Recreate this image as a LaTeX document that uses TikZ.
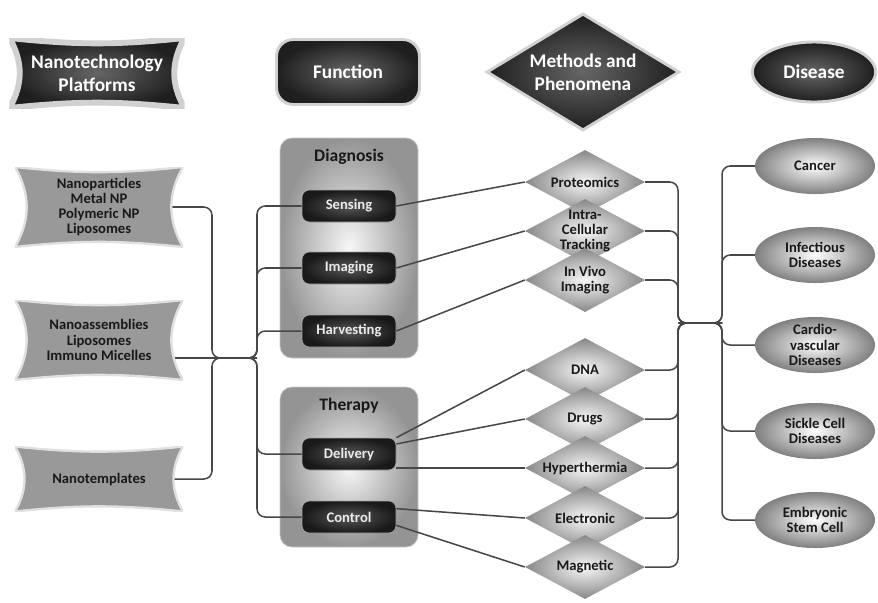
\documentclass[tikz,border=0pt]{standalone}
\usepackage{fontspec}
\setmainfont{Carlito}
\usetikzlibrary{shapes.geometric,backgrounds}

\tikzset{
  body/.style={font=\fontsize{12.5}{13}\selectfont\bfseries},
  darkshade/.style={inner color=black!60, outer color=black!88},
  concave/.style={path picture={
    \path[#1] (path picture bounding box.north west)
      to[bend right=6] (path picture bounding box.north east)
      to[bend right=30] (path picture bounding box.south east)
      to[bend right=6] (path picture bounding box.south west)
      to[bend right=30] (path picture bounding box.north west) -- cycle;}},
  headtext/.style={font=\fontsize{16.5}{20}\selectfont\bfseries, text=white, align=center},
  head/.style={headtext, darkshade, draw=black!18, line width=2.5pt},
  headpanel/.style={headtext, concave={darkshade, draw=black!18, line width=5pt},
    minimum width=5.25cm, minimum height=2.1cm},
  platform/.style={body, text=black!90, align=center,
    concave={fill=black!40, draw=black!12, line width=2pt},
    minimum width=5.04cm, minimum height=2.4cm},
  panel/.style={rounded corners=0.36cm, inner color=black!3, outer color=black!42,
    draw=black!22, line width=0.6pt, minimum width=4.14cm},
  paneltitle/.style={font=\fontsize{15}{17}\selectfont\bfseries, text=black!90},
  task/.style={body, rounded corners=0.22cm, inner color=black!66, outer color=black!90,
    draw=black!35, line width=0.6pt, text=white!92!black,
    minimum width=2.82cm, minimum height=0.96cm},
  method/.style={body, diamond, aspect=1.875, inner sep=-6pt, align=center, text=black!90,
    inner color=black!3, outer color=black!47, minimum width=3.6cm, minimum height=1.92cm},
  disease/.style={body, ellipse, inner sep=-4pt, align=center, text=black!90,
    inner color=white, outer color=black!50, minimum width=3.6cm, minimum height=1.68cm},
  conn/.style={draw=black!72, line width=1.3pt, rounded corners=7pt}
}

\begin{document}
\begin{tikzpicture}[x=0.03cm, y=-0.03cm]
\useasboundingbox (0,0) rectangle (878,602);

\node[headpanel] (hplatform) at (97,73) {Nanotechnology\\Platforms};
\node[head, rounded corners=0.5cm, minimum width=4.29cm, minimum height=1.95cm] (hfunction) at (348,72) {Function};
\node[head, diamond, aspect=1.65, inner sep=0pt, minimum width=5.79cm, minimum height=3.51cm] (hmethod) at (583,72) {Methods and\\Phenomena};
\node[head, ellipse, minimum width=3.7cm, minimum height=1.8cm] (hdisease) at (814,72) {Disease};

\node[platform] (nanopart) at (99,207) {Nanoparticles\\Metal NP\\Polymeric NP\\Liposomes};
\node[platform] (nanoassem) at (99,340) {Nanoassemblies\\Liposomes\\Immuno Micelles};
\node[platform, minimum height=1.95cm] (nanotempl) at (99,479) {Nanotemplates};

\node[panel, minimum height=6.6cm] (diagnosis) at (349,248) {};
\node[panel, minimum height=4.8cm] (therapy) at (349,467) {};
\node[paneltitle] (diagtitle) at (349,157) {Diagnosis};
\node[paneltitle] (thertitle) at (349,406) {Therapy};

\node[task] (sensing) at (349,206) {Sensing};
\node[task] (imaging) at (349,268) {Imaging};
\node[task] (harvesting) at (349,331) {Harvesting};
\node[task] (delivery) at (349,454) {Delivery};
\node[task] (control) at (349,517) {Control};

\node[method] (prot) at (585,182) {Proteomics};
\node[method] (intra) at (585,231) {Intra-\\Cellular\\Tracking};
\node[method] (invivo) at (585,280) {In Vivo\\Imaging};
\node[method] (dna) at (585,370) {DNA};
\node[method] (drugs) at (585,419) {Drugs};
\node[method] (hyper) at (585,468) {Hyperthermia};
\node[method] (elec) at (585,518) {Electronic};
\node[method] (magn) at (585,567) {Magnetic};

\node[disease] (cancer) at (815,166) {Cancer};
\node[disease] (infect) at (815,255) {Infectious\\Diseases};
\node[disease] (cardio) at (815,345) {Cardio-\\vascular\\Diseases};
\node[disease] (sickle) at (815,431) {Sickle Cell\\Diseases};
\node[disease] (embryo) at (815,520) {Embryonic\\Stem Cell};

\coordinate (pj) at (212,358);
\coordinate (fj) at (257,358);
\coordinate (mj) at (678,323);
\coordinate (dj) at (722,323);

\begin{scope}[on background layer]
\draw[conn] (nanopart.center) -| (pj) -- (fj);
\draw[conn] (nanoassem.center |- pj) -- (fj);
\draw[conn] (nanotempl.center) -| (pj) -- (fj);
\end{scope}

\draw[conn] (pj) -- (fj) |- (sensing.west);
\draw[conn] (pj) -- (fj) |- (imaging.west);
\draw[conn] (pj) -- (fj) |- (harvesting.west);
\draw[conn] (pj) -- (fj) |- (delivery.west);
\draw[conn] (pj) -- (fj) |- (control.west);

\draw[conn] (sensing.east) -- (prot.west);
\draw[conn] (imaging.east) -- (intra.west);
\draw[conn] (harvesting.east) -- (invivo.west);
\draw[conn] (delivery.north east) -- (dna.west);
\draw[conn] (delivery.12) -- (drugs.west);
\draw[conn] (delivery.east |- hyper.west) -- (hyper.west);
\draw[conn] (control.10) -- (elec.west);
\draw[conn] (control.-10) -- (magn.west);

\draw[conn] (prot.east) -| (mj) -- (dj);
\draw[conn] (intra.east) -| (mj) -- (dj);
\draw[conn] (invivo.east) -| (mj) -- (dj);
\draw[conn] (dna.east) -| (mj) -- (dj);
\draw[conn] (drugs.east) -| (mj) -- (dj);
\draw[conn] (hyper.east) -| (mj) -- (dj);
\draw[conn] (elec.east) -| (mj) -- (dj);
\draw[conn] (magn.east) -| (mj) -- (dj);

\draw[conn] (mj) -- (dj) |- (cancer.west);
\draw[conn] (mj) -- (dj) |- (infect.west);
\draw[conn] (mj) -- (dj) |- (cardio.west);
\draw[conn] (mj) -- (dj) |- (sickle.west);
\draw[conn] (mj) -- (dj) |- (embryo.west);
\end{tikzpicture}
\end{document}
